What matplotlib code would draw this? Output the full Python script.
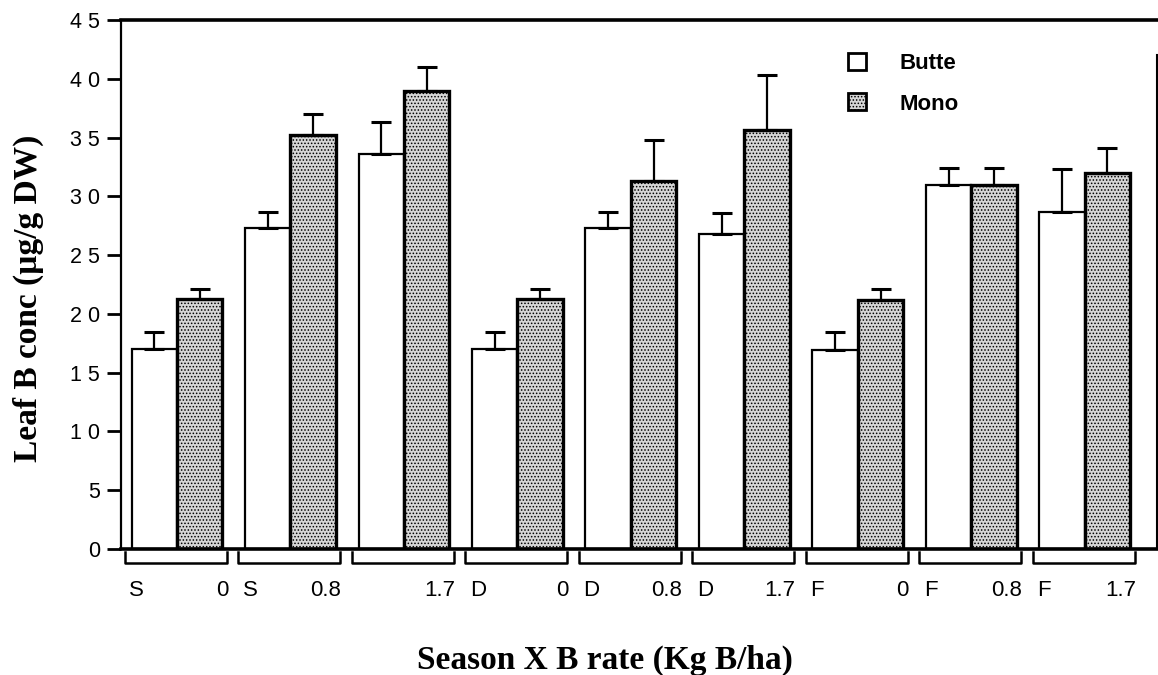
import matplotlib.pyplot as plt
import numpy as np
from matplotlib.patches import Patch

# data
seasons = ['S', 'S', '', 'D', 'D', 'D', 'F', 'F', 'F']
rates = ['0', '0.8', '1.7', '0', '0.8', '1.7', '0', '0.8', '1.7']
butte = [17.0, 27.3, 33.6, 17.0, 27.3, 26.8, 16.9, 31.0, 28.7]
butte_err = [1.5, 1.4, 2.7, 1.5, 1.4, 1.8, 1.6, 1.4, 3.6]
mono = [21.3, 35.2, 39.0, 21.3, 31.3, 35.6, 21.2, 31.0, 32.0]
mono_err = [0.8, 1.8, 2.0, 0.8, 3.5, 4.7, 0.9, 1.4, 2.1]
yticks = [0, 5, 10, 15, 20, 25, 30, 35, 40, 45]

plt.rcParams['font.family'] = ['Liberation Sans', 'DejaVu Sans']
plt.rcParams['hatch.linewidth'] = 0.7
plt.rcParams['hatch.color'] = '#3a3a3a'

fig = plt.figure(figsize=(11.58, 6.75), dpi=100)
ax = fig.add_axes([0.1045, 0.1867, 0.8945, 0.7837])

x = np.arange(len(butte))
w = 0.40
mono_face = '#d6d6d6'

ax.bar(x - w / 2, butte, w, color='white', edgecolor='black', linewidth=1.6, zorder=2)
ax.bar(x + w / 2, mono, w, color=mono_face, edgecolor='black', linewidth=2.4,
       hatch='.....', zorder=2)
ax.errorbar(x - w / 2, butte, yerr=[np.zeros(len(butte)), butte_err], fmt='none',
            ecolor='black', elinewidth=1.6, capsize=7, capthick=2.2, zorder=3)
ax.errorbar(x + w / 2, mono, yerr=[np.zeros(len(mono)), mono_err], fmt='none',
            ecolor='black', elinewidth=1.6, capsize=7, capthick=2.2, zorder=3)

ax.set_xlim(-0.493, 8.635)
ax.set_ylim(0, 45)
ax.set_yticks(yticks)
# old typesetter look: digits are spread out
ax.set_yticklabels([' '.join(str(t)) for t in yticks], fontsize=15.5)
ax.tick_params(axis='y', direction='out', length=10, width=2, pad=5)
ax.set_xticks([])

ax.spines['left'].set_linewidth(1.6)
for side in ['top', 'bottom']:
    ax.spines[side].set_linewidth(2.6)
ax.spines['right'].set_linewidth(1.5)
ax.spines['right'].set_bounds(0, 42)

# brackets and group labels under the axis
tr = ax.get_xaxis_transform()
for i in range(len(x)):
    left = x[i] - 0.46
    right = x[i] + 0.44
    ax.plot([left, left, right, right], [-0.006, -0.027, -0.027, -0.006],
            color='black', linewidth=1.8, transform=tr, clip_on=False)
    if seasons[i]:
        ax.text(x[i] - 0.42, -0.078, seasons[i], transform=tr, ha='left',
                va='center', fontsize=16)
    ax.text(x[i] + 0.45, -0.078, rates[i], transform=tr, ha='right',
            va='center', fontsize=16)

serif = ['Liberation Serif', 'DejaVu Serif']
fig.text(28 / 1158, 1 - 298 / 675, 'Leaf B conc (µg/g DW)', family=serif,
         fontsize=24, fontweight='bold', rotation=90, ha='center', va='center')
fig.text(0.5225, 1 - 660 / 675, 'Season X B rate (Kg B/ha)', family=serif,
         fontsize=24, fontweight='bold', ha='center', va='center')

handles = [Patch(facecolor='white', edgecolor='black', linewidth=2),
           Patch(facecolor=mono_face, edgecolor='black', linewidth=2, hatch='.....')]
ax.legend(handles, ['Butte', 'Mono'], loc='upper left', bbox_to_anchor=(0.683, 0.975),
          frameon=False, handlelength=0.8, handleheight=0.8, handletextpad=1.5,
          labelspacing=0.85, prop={'size': 16, 'weight': 'bold'})

plt.savefig('out.png', dpi=100)
